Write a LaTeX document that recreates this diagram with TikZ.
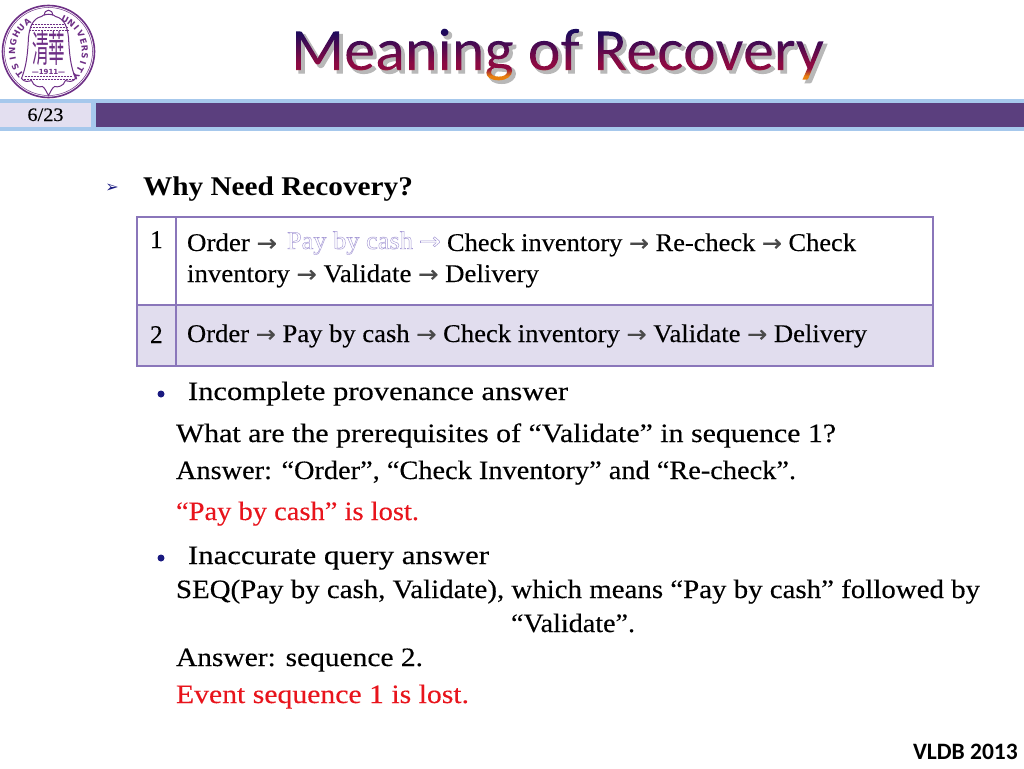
\documentclass[tikz,border=0pt]{standalone}
\usepackage{fontspec}
\usepackage{graphicx}
\usetikzlibrary{shadings}
\setmainfont{Liberation Serif}
\newfontfamily\bodyf[FakeBold=0.25]{Liberation Serif}
\newfontfamily\plainf{Liberation Serif}
\newfontfamily\titlef[BoldFont={Carlito Bold}]{Carlito}
\newfontfamily\symf{DejaVu Sans}
\newfontfamily\arf[FakeBold=0.7]{DejaVu Sans}
\newfontfamily\cjkf{Noto Sans CJK TC}
\definecolor{barpurple}{HTML}{5B3F7E}
\definecolor{barblue}{HTML}{A6C8EC}
\definecolor{celllilac}{HTML}{E3DFF0}
\definecolor{rowlilac}{HTML}{E1DDEE}
\definecolor{tabline}{HTML}{8A76BA}
\definecolor{logopurple}{HTML}{6E2F86}
\definecolor{arrowgray}{HTML}{4A4A4A}
\definecolor{outl}{HTML}{A79BD6}
\definecolor{redtxt}{HTML}{E8141C}
\definecolor{navyb}{HTML}{1A1A80}
\definecolor{tnavy}{HTML}{1B0A5C}
\definecolor{tred}{HTML}{8C0A42}
\definecolor{torange}{HTML}{E8800F}
\pgfdeclareverticalshading{titlegrad}{100bp}{color(0bp)=(torange); color(35bp)=(torange); color(40.5bp)=(tred); color(44bp)=(tred); color(67bp)=(tnavy); color(100bp)=(tnavy)}
\newcommand{\fitw}[2]{\resizebox{#1pt}{\height}{#2}}
\newcommand{\ar}{{\arf\color{arrowgray}\fontsize{23}{23}\selectfont →}}
\newcommand{\outlined}[1]{\special{pdf:code 1 Tr 0.45 w}{\color{outl}#1}\special{pdf:code 0 Tr}}
\newcommand{\ttxt}{{\titlef\fontsize{60}{60}\selectfont Meaning of Recovery}}
\newcommand{\tshadow}[4]{\raisebox{-#2pt}[0pt][0pt]{\rlap{\kern#1pt\special{pdf:code 2 Tr #4 w}{\color{#3}\ttxt}\special{pdf:code 0 Tr}}}}
\tikzset{
  x=1pt,y=-1pt,
  txt/.style={anchor=base west,inner sep=0pt,outer sep=0pt,font=\bodyf\fontsize{26.5}{26.5}\selectfont,text=black},
  redline/.style={txt,text=redtxt},
  tabtxt/.style={txt,font=\bodyf\fontsize{25.5}{25.5}\selectfont},
  bulletdot/.style={circle,fill=navyb,inner sep=0pt,minimum size=7pt},
  logoline/.style={draw=logopurple,line width=1pt},
  logodots/.style={draw=logopurple,densely dotted,line width=0.5pt},
  logoletter/.style={inner sep=0pt,text=logopurple,font=\symf\bfseries\fontsize{8.5}{8.5}\selectfont},
}
\begin{document}
\begin{tikzpicture}
\useasboundingbox (0,0) rectangle (1024,768);
\fill[white] (0,0) rectangle (1024,768);
% header band
\fill[barblue] (0,99) rectangle (1024,131);
\fill[celllilac] (0,103) rectangle (91,127);
\fill[barpurple] (96,103) rectangle (1024,127);
% table frame
\fill[rowlilac] (137,305) rectangle (933,366);
\draw[tabline,line width=1.2pt] (137,217) rectangle (933,366);
\draw[tabline,line width=1.2pt] (176,217) -- (176,366);
\draw[tabline,line width=2.4pt] (137,305) -- (933,305);
% outlined words come first: they use plain, non-emboldened fonts
\node[tabtxt,font=\plainf\fontsize{25.5}{25.5}\selectfont] (r1b) at (287,249) {\fitw{126}{\outlined{Pay by cash}}};
\node[tabtxt,font=\plainf\fontsize{25.5}{25.5}\selectfont] (r1c) at (419,249) {\fitw{22}{\outlined{{\symf\fontsize{23}{23}\selectfont→}}}};
% title: one soft shadow layer, then the text as clip for the gradient
\node[anchor=base west,inner sep=0pt,outer sep=0pt] (title) at (291,70) {\fitw{533}{%
  \tshadow{3}{3}{black!28}{1.4}%
  \special{pdf:code q 7 Tr}\rlap{\ttxt}\special{pdf:code 0 Tr}%
  \rlap{\tikz[overlay,x=1pt,y=1pt]{\shade[shading=titlegrad] (-5,-20) rectangle (540,50);}}%
  \special{pdf:code Q}%
  \phantom{\ttxt}}};
% logo
\begin{scope}[shift={(48.5,51.5)},y=1pt]
  \draw[logopurple,line width=1.6pt] (0,0) circle (46);
  \draw[logopurple,line width=0.5pt] (0,0) circle (44);
  \draw[logoline] (-4,36) .. controls (-5,43) and (5,43) .. (4,36);
  \draw[logoline] (-7,35) .. controls (-6,38) and (6,38) .. (7,35)
     .. controls (16,33) and (19,24) .. (20,14) .. controls (21,-4) and (22,-14) .. (27,-27)
     .. controls (24,-31) and (20,-30) .. (17,-29) .. controls (15,-35) and (9,-36) .. (6,-35)
     .. controls (3,-37) and (2,-41) .. (0,-44) .. controls (-2,-41) and (-3,-37) .. (-6,-35)
     .. controls (-9,-36) and (-15,-35) .. (-17,-29) .. controls (-20,-30) and (-24,-31) .. (-27,-27)
     .. controls (-22,-14) and (-21,-4) .. (-20,14) .. controls (-19,24) and (-16,33) .. (-7,35);
  \draw[logodots] (-17,27) -- (17,27);
  \draw[logodots] (-19,24) -- (19,24);
  \draw[logodots] (-20,21) -- (20,21);
  \draw[logodots] (-24,-25) -- (24,-25);
  \draw[logodots] (-25,-28) -- (25,-28);
  \node[inner sep=0pt,text=logopurple] (lgc) at (0,3) {\resizebox{33pt}{31pt}{\cjkf 清華}};
  \node[inner sep=0pt,text=logopurple,font=\symf\bfseries\fontsize{7}{7}\selectfont] (lgy) at (0,-20) {—1911—};
  \foreach \ch [count=\i] in {T,S,I,N,G,H,U,A}{
    \pgfmathsetmacro{\ang}{218-13.2*(\i-1)}
    \pgfmathsetmacro{\rot}{\ang-90}
    \node[logoletter,rotate=\rot] (ll\i) at (\ang:36.5) {\ch};
  }
  \foreach \ch [count=\i] in {U,N,I,V,E,R,S,I,T,Y}{
    \pgfmathsetmacro{\ang}{63-11.6*(\i-1)}
    \pgfmathsetmacro{\rot}{\ang-90}
    \node[logoletter,rotate=\rot] (lr\i) at (\ang:36.5) {\ch};
  }
\end{scope}
\node[anchor=base,inner sep=0pt,font=\bodyf\fontsize{19}{19}\selectfont] (pg) at (45.5,121) {\fitw{36}{6/23}};
% heading
\node[inner sep=0pt,anchor=center,text=navyb,font=\symf\fontsize{16}{16}\selectfont] (hb) at (112,188) {➢};
\node[txt,font=\plainf\bfseries\fontsize{27}{27}\selectfont] (head) at (143,195) {\fitw{270}{Why Need Recovery?}};
% table text
\node[tabtxt] (n1) at (150,248) {1};
\node[tabtxt] (n2) at (150,343) {2};
\node[tabtxt] (r1a) at (187,251) {\fitw{90}{Order \ar}};
\node[tabtxt] (r1d) at (447,251) {\fitw{409}{Check inventory \ar{} Re-check \ar{} Check}};
\node[tabtxt] (r1e) at (187,282) {\fitw{352}{inventory \ar{} Validate \ar{} Delivery}};
\node[tabtxt] (r2) at (187,342) {\fitw{680}{Order \ar{} Pay by cash \ar{} Check inventory \ar{} Validate \ar{} Delivery}};
% bullets
\node[bulletdot] (b1) at (161,394) {};
\node[txt] (l1) at (188,400) {\fitw{380}{Incomplete provenance answer}};
\node[txt] (l2) at (176,442) {\fitw{660}{What are the prerequisites of “Validate” in sequence 1?}};
\node[txt] (l3) at (176,479) {\fitw{620}{Answer: “Order”, “Check Inventory” and “Re-check”.}};
\node[redline] (l4) at (176,520) {\fitw{243}{“Pay by cash” is lost.}};
\node[bulletdot] (b2) at (161,558) {};
\node[txt] (l5) at (188,564) {\fitw{301}{Inaccurate query answer}};
\node[txt] (l6) at (176,598) {\fitw{804}{SEQ(Pay by cash, Validate), which means “Pay by cash” followed by}};
\node[txt] (l7) at (511,632) {\fitw{124}{“Validate”.}};
\node[txt] (l8) at (176,666) {\fitw{247}{Answer: sequence 2.}};
\node[redline] (l9) at (176,703) {\fitw{293}{Event sequence 1 is lost.}};
\node[anchor=base east,inner sep=0pt,font=\titlef\bfseries\fontsize{23.5}{23.5}\selectfont] (vl) at (1018,759) {VLDB 2013};
\end{tikzpicture}
\end{document}
